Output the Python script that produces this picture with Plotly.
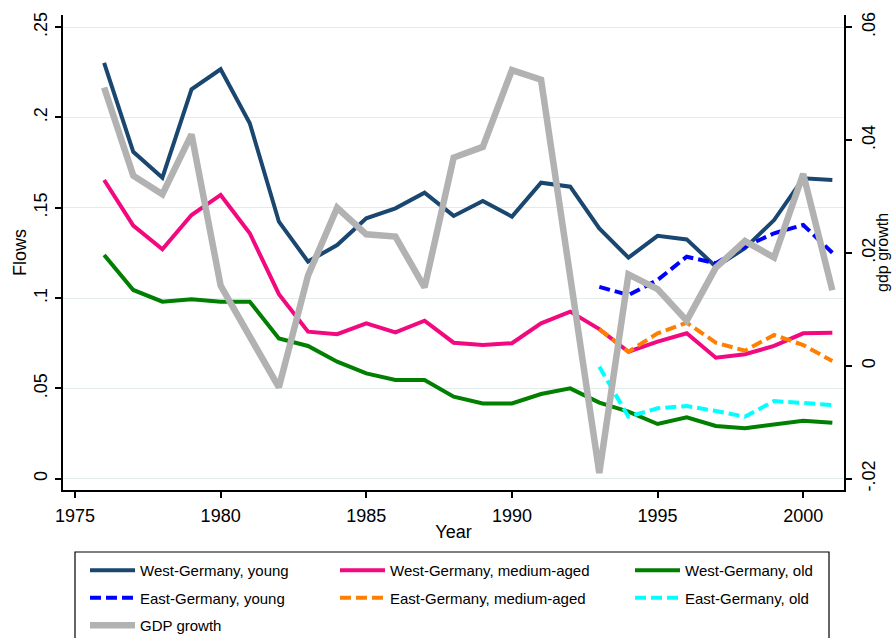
import plotly.graph_objects as go

years = list(range(1976, 2002))
east_years = list(range(1993, 2002))

west_young = [0.2303, 0.181, 0.1667, 0.2156, 0.2267, 0.1968, 0.1423, 0.1202, 0.1294, 0.1442,
              0.1497, 0.1584, 0.1455, 0.1538, 0.1451, 0.1639, 0.1617, 0.1386, 0.1224, 0.1345,
              0.1325, 0.1174, 0.1276, 0.1432, 0.1663, 0.1654]
west_medium = [0.1654, 0.1401, 0.127, 0.146, 0.1571, 0.1359, 0.1022, 0.0814, 0.080, 0.086,
               0.081, 0.0875, 0.0753, 0.074, 0.075, 0.086, 0.0925, 0.0828, 0.0703, 0.0759,
               0.0805, 0.067, 0.0689, 0.0735, 0.0805, 0.0808]
west_old = [0.1239, 0.1045, 0.098, 0.0993, 0.098, 0.098, 0.0777, 0.0735, 0.0648, 0.0583,
            0.0547, 0.0547, 0.0454, 0.0417, 0.0417, 0.0469, 0.050, 0.0421, 0.0371, 0.0303,
            0.034, 0.0292, 0.0279, 0.0301, 0.0321, 0.031]
east_young = [0.1062, 0.1017, 0.110, 0.1229, 0.1193, 0.1285, 0.1359, 0.1405, 0.1251]
east_medium = [0.0828, 0.0703, 0.0805, 0.0864, 0.0753, 0.0709, 0.0796, 0.074, 0.0652]
east_old = [0.062, 0.0343, 0.039, 0.0402, 0.0375, 0.0343, 0.043, 0.0417, 0.0408]
gdp_growth = [0.0493, 0.0337, 0.0304, 0.041, 0.0142, 0.0052, -0.0038, 0.016, 0.028, 0.0233,
              0.0229, 0.0139, 0.0369, 0.0388, 0.0524, 0.0507, 0.015, -0.019, 0.0162, 0.0136,
              0.008, 0.0174, 0.0221, 0.0192, 0.034, 0.0134]

left_ticks = [0, 0.05, 0.1, 0.15, 0.2, 0.25]
left_labels = ["0", ".05", ".1", ".15", ".2", ".25"]
right_ticks = [-0.02, 0, 0.02, 0.04, 0.06]
right_labels = ["-.02", "0", ".02", ".04", ".06"]
x_ticks = [1975, 1980, 1985, 1990, 1995, 2000]

FONT = "Arial, Liberation Sans, sans-serif"
DASH = "11px,5px"

fig = go.Figure()

def add(x, y, name, color, width, dash, legend, yaxis="y"):
    fig.add_trace(go.Scatter(
        x=x, y=y, name=name, mode="lines", yaxis=yaxis,
        line=dict(color=color, width=width, dash=dash),
        legend=legend, legendgroup=name, showlegend=True,
    ))

add(years, west_young, "West-Germany, young", "#1a476f", 4, "solid", "legend")
add(years, west_medium, "West-Germany, medium-aged", "#f2097f", 4, "solid", "legend2")
add(years, west_old, "West-Germany, old", "#007f00", 4, "solid", "legend3")
add(east_years, east_young, "East-Germany, young", "#0000ff", 4, DASH, "legend")
add(east_years, east_medium, "East-Germany, medium-aged", "#ff8000", 4, DASH, "legend2")
add(east_years, east_old, "East-Germany, old", "#00ffff", 4, DASH, "legend3")
add(years, gdp_growth, "GDP growth", "#b2b2b2", 6.5, "solid", "legend", yaxis="y2")

W, H = 893, 638
L, R, T, B = 63, 49, 15, 148
pw = W - L - R
ph = H - T - B

def px_x(p):
    return (p - L) / pw

def px_y(p):
    return (H - B - p) / ph

leg_common = dict(
    orientation="v", xanchor="left", yanchor="top", yref="container",
    bgcolor="rgba(0,0,0,0)", borderwidth=0,
    font=dict(family=FONT, size=15, color="black"),
    itemwidth=45, traceorder="grouped", tracegroupgap=5,
    itemclick=False, itemdoubleclick=False,
)
leg_y = 1 - 554 / H

fig.update_layout(
    width=W, height=H,
    margin=dict(l=L, r=R, t=T, b=B, pad=0, autoexpand=False),
    paper_bgcolor="white", plot_bgcolor="white",
    font=dict(family=FONT, size=18, color="black"),
    xaxis=dict(
        range=[1974.588, 2001.40], tickvals=x_ticks, ticks="outside", ticklen=6,
        tickwidth=1.5, tickcolor="black", showline=True, linecolor="black", linewidth=1.5,
        showgrid=False, zeroline=False, mirror=False, automargin=False,
        ticklabelstandoff=3,
        title=dict(text="Year", font=dict(size=18), standoff=0),
        tickfont=dict(size=18),
    ),
    yaxis=dict(
        range=[-0.00626, 0.25675], tickvals=left_ticks, ticktext=left_labels,
        ticks="outside", ticklen=6, tickwidth=1.5, tickcolor="black", tickangle=-90,
        showline=True, linecolor="black", linewidth=1.5, automargin=False,
        showgrid=True, gridcolor="#e3ecec", gridwidth=1.3, zeroline=False,
        ticklabelstandoff=1,
        title=dict(text="Flows", font=dict(size=18), standoff=0),
        tickfont=dict(size=18),
    ),
    yaxis2=dict(
        range=[-0.022, 0.06216], tickvals=right_ticks, ticktext=right_labels,
        overlaying="y", side="right", anchor="x", automargin=False,
        ticks="outside", ticklen=6, tickwidth=1.5, tickcolor="black", tickangle=-90,
        showline=True, linecolor="black", linewidth=1.5,
        showgrid=False, zeroline=False,
        ticklabelstandoff=2,
        tickfont=dict(size=18),
    ),
    annotations=[dict(
        text="gdp growth", xref="paper", yref="paper",
        x=px_x(883), y=px_y(252), xanchor="center", yanchor="middle",
        textangle=-90, showarrow=False, font=dict(family=FONT, size=16, color="black"),
    )],
    legend=dict(x=px_x(85), y=leg_y, **leg_common),
    legend2=dict(x=px_x(335), y=leg_y, **leg_common),
    legend3=dict(x=px_x(630), y=leg_y, **leg_common),
    shapes=[dict(
        type="rect", xref="paper", yref="paper",
        x0=px_x(75), x1=px_x(829), y0=px_y(660), y1=px_y(552),
        line=dict(color="black", width=1.2), fillcolor="rgba(0,0,0,0)", layer="below",
    )],
    showlegend=True,
)

fig.write_html(
    "out.html",
    config={"displayModeBar": False},
    post_script="document.body.style.margin='0';document.body.style.overflow='hidden';",
)
